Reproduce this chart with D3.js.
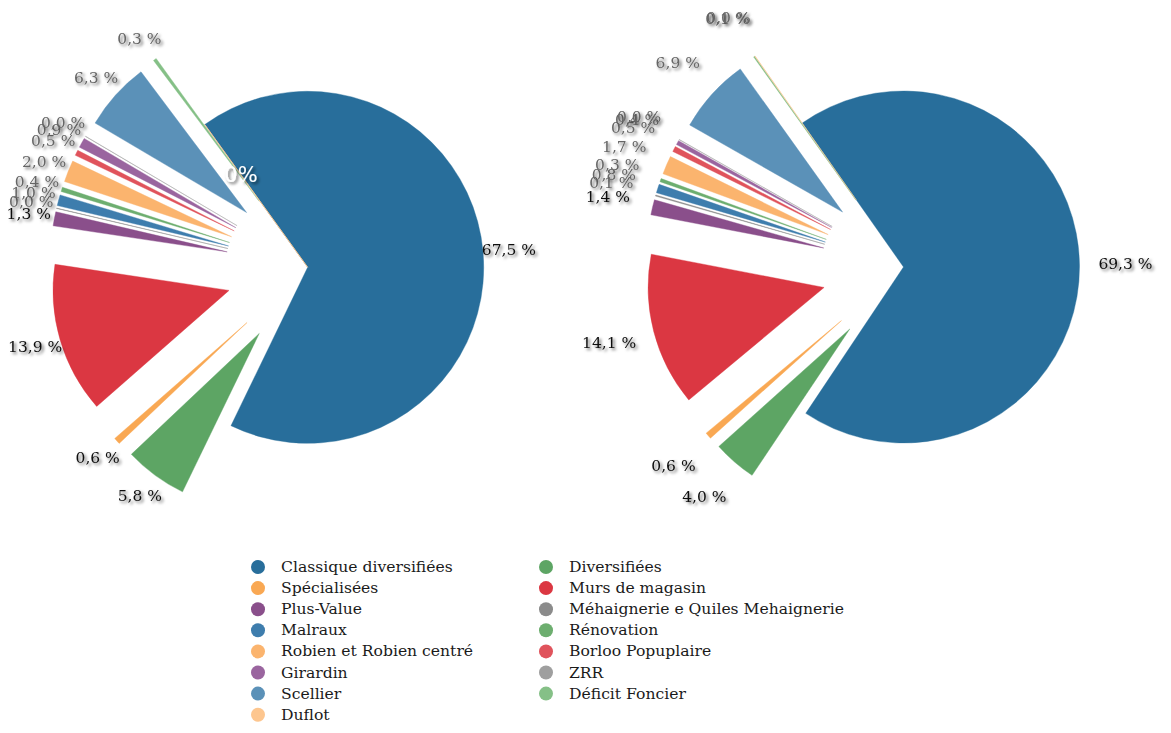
<!DOCTYPE html>
<html><head><meta charset="utf-8">
<script src="https://cdn.jsdelivr.net/npm/d3@7"></script>
<style>body{margin:0;background:#fff;} svg{display:block;}</style>
</head><body>
<svg id="chart" width="1171" height="733"></svg>
<script>
// ---- data ----
const categories = ["Classique diversifiées","Diversifiées","Spécialisées","Murs de magasin","Plus-Value","Méhaignerie e Quiles Mehaignerie","Malraux","Rénovation","Robien et Robien centré","Borloo Popuplaire","Girardin","ZRR","Scellier","Déficit Foncier","Duflot"];
const colors = ["#286e9b","#5da564","#f9a853","#db3742","#8a4f8b","#8b8b8b","#3e7dad","#6dae6f","#fbb46e","#e0535c","#9a659f","#9f9f9f","#5b91b8","#85c087","#fdc68f"];
const valuesLeft  = [67.5,5.8,0.6,13.9,1.3,0.03,1.0,0.4,2.0,0.5,0.9,0.03,6.3,0.3,0];
const valuesRight = [69.3,4.0,0.6,14.1,1.4,0.1,0.8,0.3,1.7,0.5,0.4,0.03,6.9,0.1,0.03];

// ---- setup ----
const svg = d3.select("#chart");
const defs = svg.append("defs");
const f = defs.append("filter").attr("id","sh").attr("x","-30%").attr("y","-40%").attr("width","170%").attr("height","190%");
f.append("feDropShadow").attr("dx",2).attr("dy",2).attr("stdDeviation",1.6).attr("flood-color","#000").attr("flood-opacity",0.6);

const loc = d3.formatLocale({decimal:",",thousands:" ",grouping:[3],currency:["","€"]});
const fmt = loc.format(".1f");
const serif = "'DejaVu Serif', serif";

const R = 176, OFFSET = 82;

function drawPie(values, cx, cy, startDeg, labelR){
  const start = startDeg*Math.PI/180;
  const pie = d3.pie().sort(null).value(d=>d).startAngle(start).endAngle(start+2*Math.PI);
  const arcs = pie(values);
  const arc = d3.arc().innerRadius(0).outerRadius(R);
  const g = svg.append("g").attr("transform",`translate(${cx},${cy})`);
  const lab = svg.append("g").attr("transform",`translate(${cx},${cy})`);
  arcs.forEach((a,i)=>{
    const mid = (a.startAngle+a.endAngle)/2;
    const dir = [Math.sin(mid), -Math.cos(mid)];
    if (a.value === 0){
      g.append("line").attr("x1",0).attr("y1",0)
        .attr("x2",R*dir[0]).attr("y2",R*dir[1])
        .attr("stroke",colors[i]).attr("stroke-width",1);
      lab.append("text").attr("x",114*dir[0]).attr("y",114*dir[1])
        .attr("text-anchor","middle").attr("dominant-baseline","central")
        .attr("font-family","'DejaVu Sans', sans-serif").attr("font-size",21)
        .attr("fill","#fff").attr("filter","url(#sh)").text("0%");
      return;
    }
    const off = i===0 ? 0 : OFFSET;
    const ox = off*dir[0], oy = off*dir[1];
    g.append("path").attr("d",arc(a)).attr("transform",`translate(${ox},${oy})`)
      .attr("fill",colors[i]).attr("stroke",colors[i]).attr("stroke-width",0.4);
    lab.append("text").attr("x",ox+labelR*dir[0]).attr("y",oy+labelR*dir[1])
      .attr("text-anchor","middle").attr("dominant-baseline","central")
      .attr("font-family",serif).attr("font-size",15.5)
      .attr("fill", i<5 ? "#111" : "#666").attr("filter","url(#sh)")
      .text(fmt(a.value)+" %");
  });
}

drawPie(valuesLeft, 307.7, 267.3, -35.8, 202);
drawPie(valuesRight, 903.5, 267, -35.1, 222);

// ---- legend ----
const leg = svg.append("g");
categories.forEach((c,i)=>{
  const col = i%2, row = Math.floor(i/2);
  const y = 567 + row*21.1;
  const mx = col===0 ? 258 : 546;
  leg.append("circle").attr("cx",mx).attr("cy",y).attr("r",7).attr("fill",colors[i]);
  leg.append("text").attr("x",mx+23).attr("y",y).attr("dominant-baseline","central")
    .attr("font-family",serif).attr("font-size",15.6).attr("fill","#1a1a1a").text(c);
});
</script>
</body></html>
